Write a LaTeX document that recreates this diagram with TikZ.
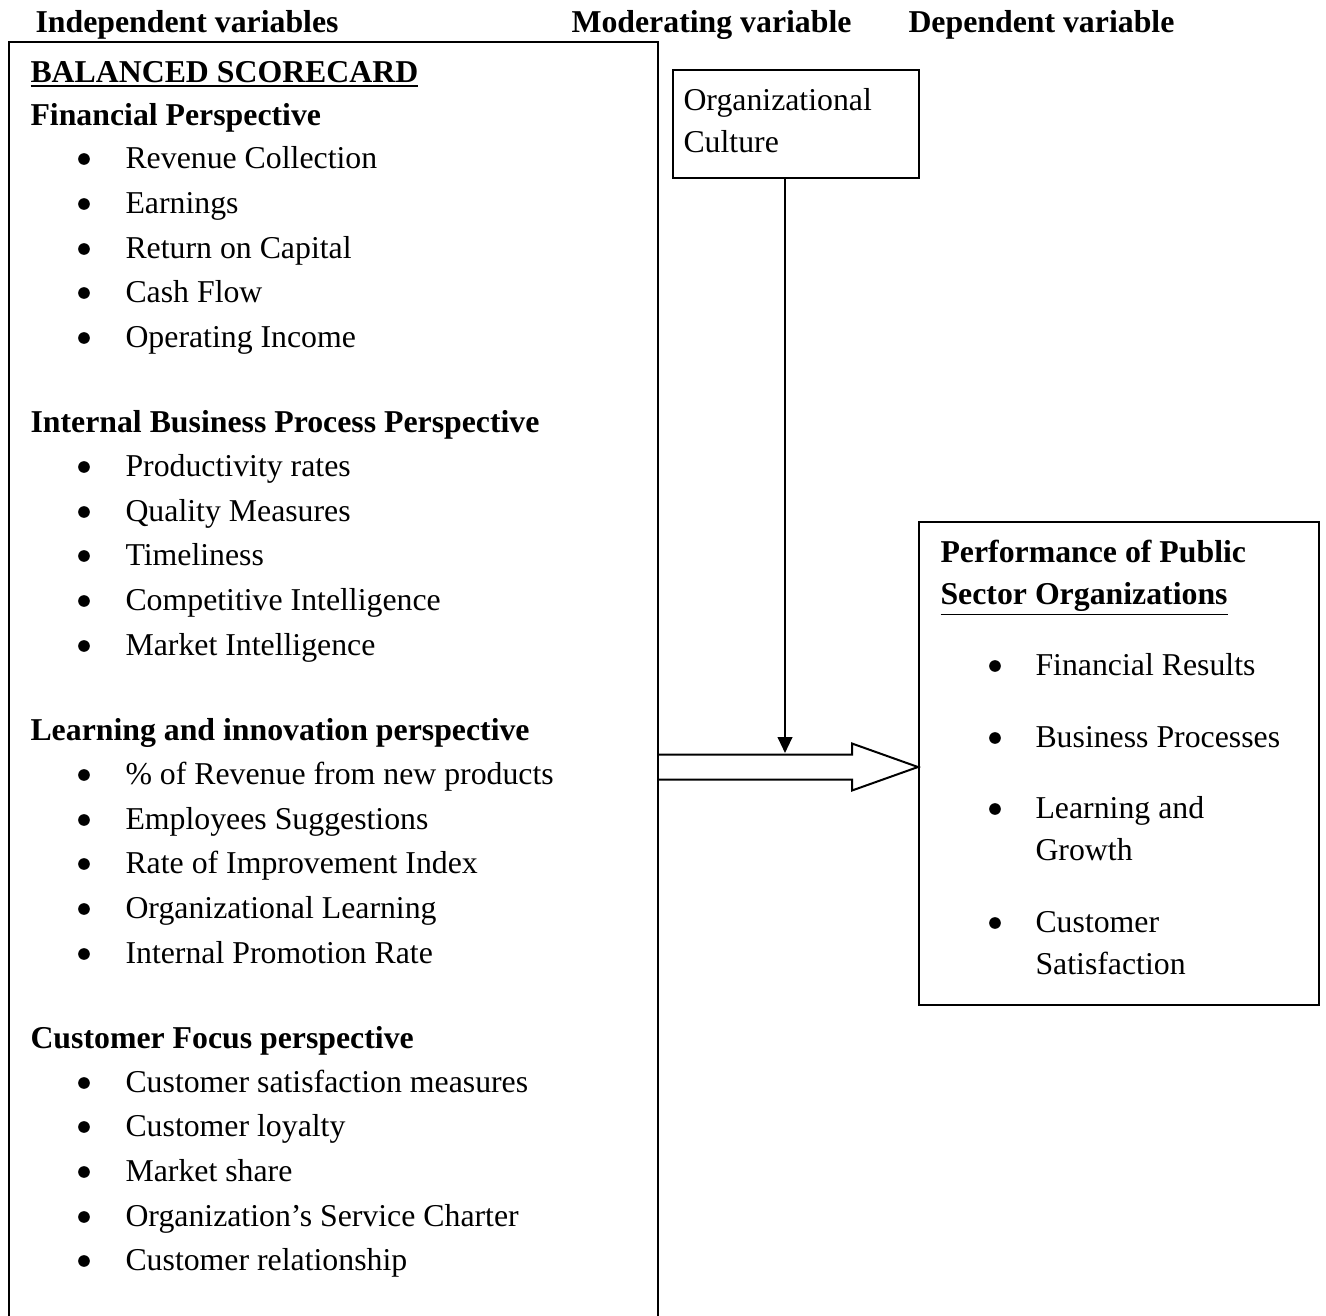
\documentclass[tikz,border=0pt]{standalone}
\usepackage{fontspec}
\setmainfont{Liberation Serif}
\usetikzlibrary{arrows.meta,calc,fit}

\begin{document}
\begin{tikzpicture}[x=0.3774pt, y=-0.3774pt,
        every node/.style={font=\fontsize{12pt}{15.8pt}\selectfont, inner sep=0pt},
        head/.style={anchor=base west, font=\fontsize{12pt}{15.8pt}\selectfont\bfseries},
        item/.style={anchor=base west},
        frame/.style={draw, line width=0.75pt, inner sep=0pt}]
        \useasboundingbox (0,0) rectangle (1326,1316);
        % column titles
        \node[head] (indep) at (35,32) {Independent variables};
        \node[head] (moder) at (571,32) {Moderating variable};
        \node[head] (depen) at (908,32) {Dependent variable};
        % balanced scorecard box (open at the bottom)
        \node[fit={(10,43) (657,1316)}, inner sep=0pt] (bsc) {};
        \node[head] (bscTitle) at (30,82) {\underline{BALANCED SCORECARD}};
        \node[head] (finHead) at (30,125) {Financial Perspective};
        \fill[black] (84,159) circle[radius=2.2pt]; \node[item] (fin1) at (125,168) {Revenue Collection};
        \fill[black] (84,204) circle[radius=2.2pt]; \node[item] (fin2) at (125,213) {Earnings};
        \fill[black] (84,249) circle[radius=2.2pt]; \node[item] (fin3) at (125,258) {Return on Capital};
        \fill[black] (84,293) circle[radius=2.2pt]; \node[item] (fin4) at (125,302) {Cash Flow};
        \fill[black] (84,338) circle[radius=2.2pt]; \node[item] (fin5) at (125,347) {Operating Income};
        \node[head] (ibpHead) at (30,432) {Internal Business Process Perspective};
        \fill[black] (84,467) circle[radius=2.2pt]; \node[item] (ibp1) at (125,476) {Productivity rates};
        \fill[black] (84,512) circle[radius=2.2pt]; \node[item] (ibp2) at (125,521) {Quality Measures};
        \fill[black] (84,556) circle[radius=2.2pt]; \node[item] (ibp3) at (125,565) {Timeliness};
        \fill[black] (84,601) circle[radius=2.2pt]; \node[item] (ibp4) at (125,610) {Competitive Intelligence};
        \fill[black] (84,646) circle[radius=2.2pt]; \node[item] (ibp5) at (125,655) {Market Intelligence};
        \node[head] (lrnHead) at (30,740) {Learning and innovation perspective};
        \fill[black] (84,775) circle[radius=2.2pt]; \node[item] (lrn1) at (125,784) {\% of Revenue from new products};
        \fill[black] (84,820) circle[radius=2.2pt]; \node[item] (lrn2) at (125,829) {Employees Suggestions};
        \fill[black] (84,864) circle[radius=2.2pt]; \node[item] (lrn3) at (125,873) {Rate of Improvement Index};
        \fill[black] (84,909) circle[radius=2.2pt]; \node[item] (lrn4) at (125,918) {Organizational Learning};
        \fill[black] (84,954) circle[radius=2.2pt]; \node[item] (lrn5) at (125,963) {Internal Promotion Rate};
        \node[head] (cusHead) at (30,1048) {Customer Focus perspective};
        \fill[black] (84,1083) circle[radius=2.2pt]; \node[item] (cus1) at (125,1092) {Customer satisfaction measures};
        \fill[black] (84,1127) circle[radius=2.2pt]; \node[item] (cus2) at (125,1136) {Customer loyalty};
        \fill[black] (84,1172) circle[radius=2.2pt]; \node[item] (cus3) at (125,1181) {Market share};
        \fill[black] (84,1217) circle[radius=2.2pt]; \node[item] (cus4) at (125,1226) {Organization’s Service Charter};
        \fill[black] (84,1261) circle[radius=2.2pt]; \node[item] (cus5) at (125,1270) {Customer relationship};
        % moderating variable
        \node[frame, fit={(673,70) (919,178)}] (cult) {};
        \node[item] (cult1) at (683,110) {Organizational};
        \node[item] (cult2) at (683,152) {Culture};
        % dependent variable
        \node[frame, fit={(919,522) (1319,1005)}] (perf) {};
        \node[head] (perf1) at (940,562) {Performance of Public};
        \node[head] (perf2) at (940,604) {\underline{Sector Organizations}};
        \fill[black] (995,666) circle[radius=2.2pt]; \node[item] (res1) at (1035,675) {Financial Results};
        \fill[black] (995,738) circle[radius=2.2pt]; \node[item] (res2) at (1035,747) {Business Processes};
        \fill[black] (995,809) circle[radius=2.2pt]; \node[item] (res3) at (1035,818) {Learning and};
        \node[item] (res3b) at (1035,860) {Growth};
        \fill[black] (995,923) circle[radius=2.2pt]; \node[item] (res4) at (1035,932) {Customer};
        \node[item] (res4b) at (1035,974) {Satisfaction};
        % block arrow from scorecard to performance
        \coordinate (tip) at ($(perf.west)+(0,3.5)$);
        \coordinate (tail) at (bsc.east |- tip);
        \draw[line width=0.75pt, fill=white] ($(tail)+(0,-12.5)$) -- ($(tip)+(-66,-12.5)$) -- ($(tip)+(-66,-23.5)$) -- (tip)
            -- ($(tip)+(-66,23.5)$) -- ($(tip)+(-66,12.5)$) -- ($(tail)+(0,12.5)$);
        \draw[line width=0.75pt] (bsc.south west) -- (bsc.north west) -- (bsc.north east) -- (bsc.south east);
        % moderating arrow
        \coordinate (drop) at (785,753);
        \draw[line width=0.75pt, -{Triangle[length=6pt,width=5.5pt]}] (cult.south -| drop) -- (drop);
    \end{tikzpicture}
\end{document}
